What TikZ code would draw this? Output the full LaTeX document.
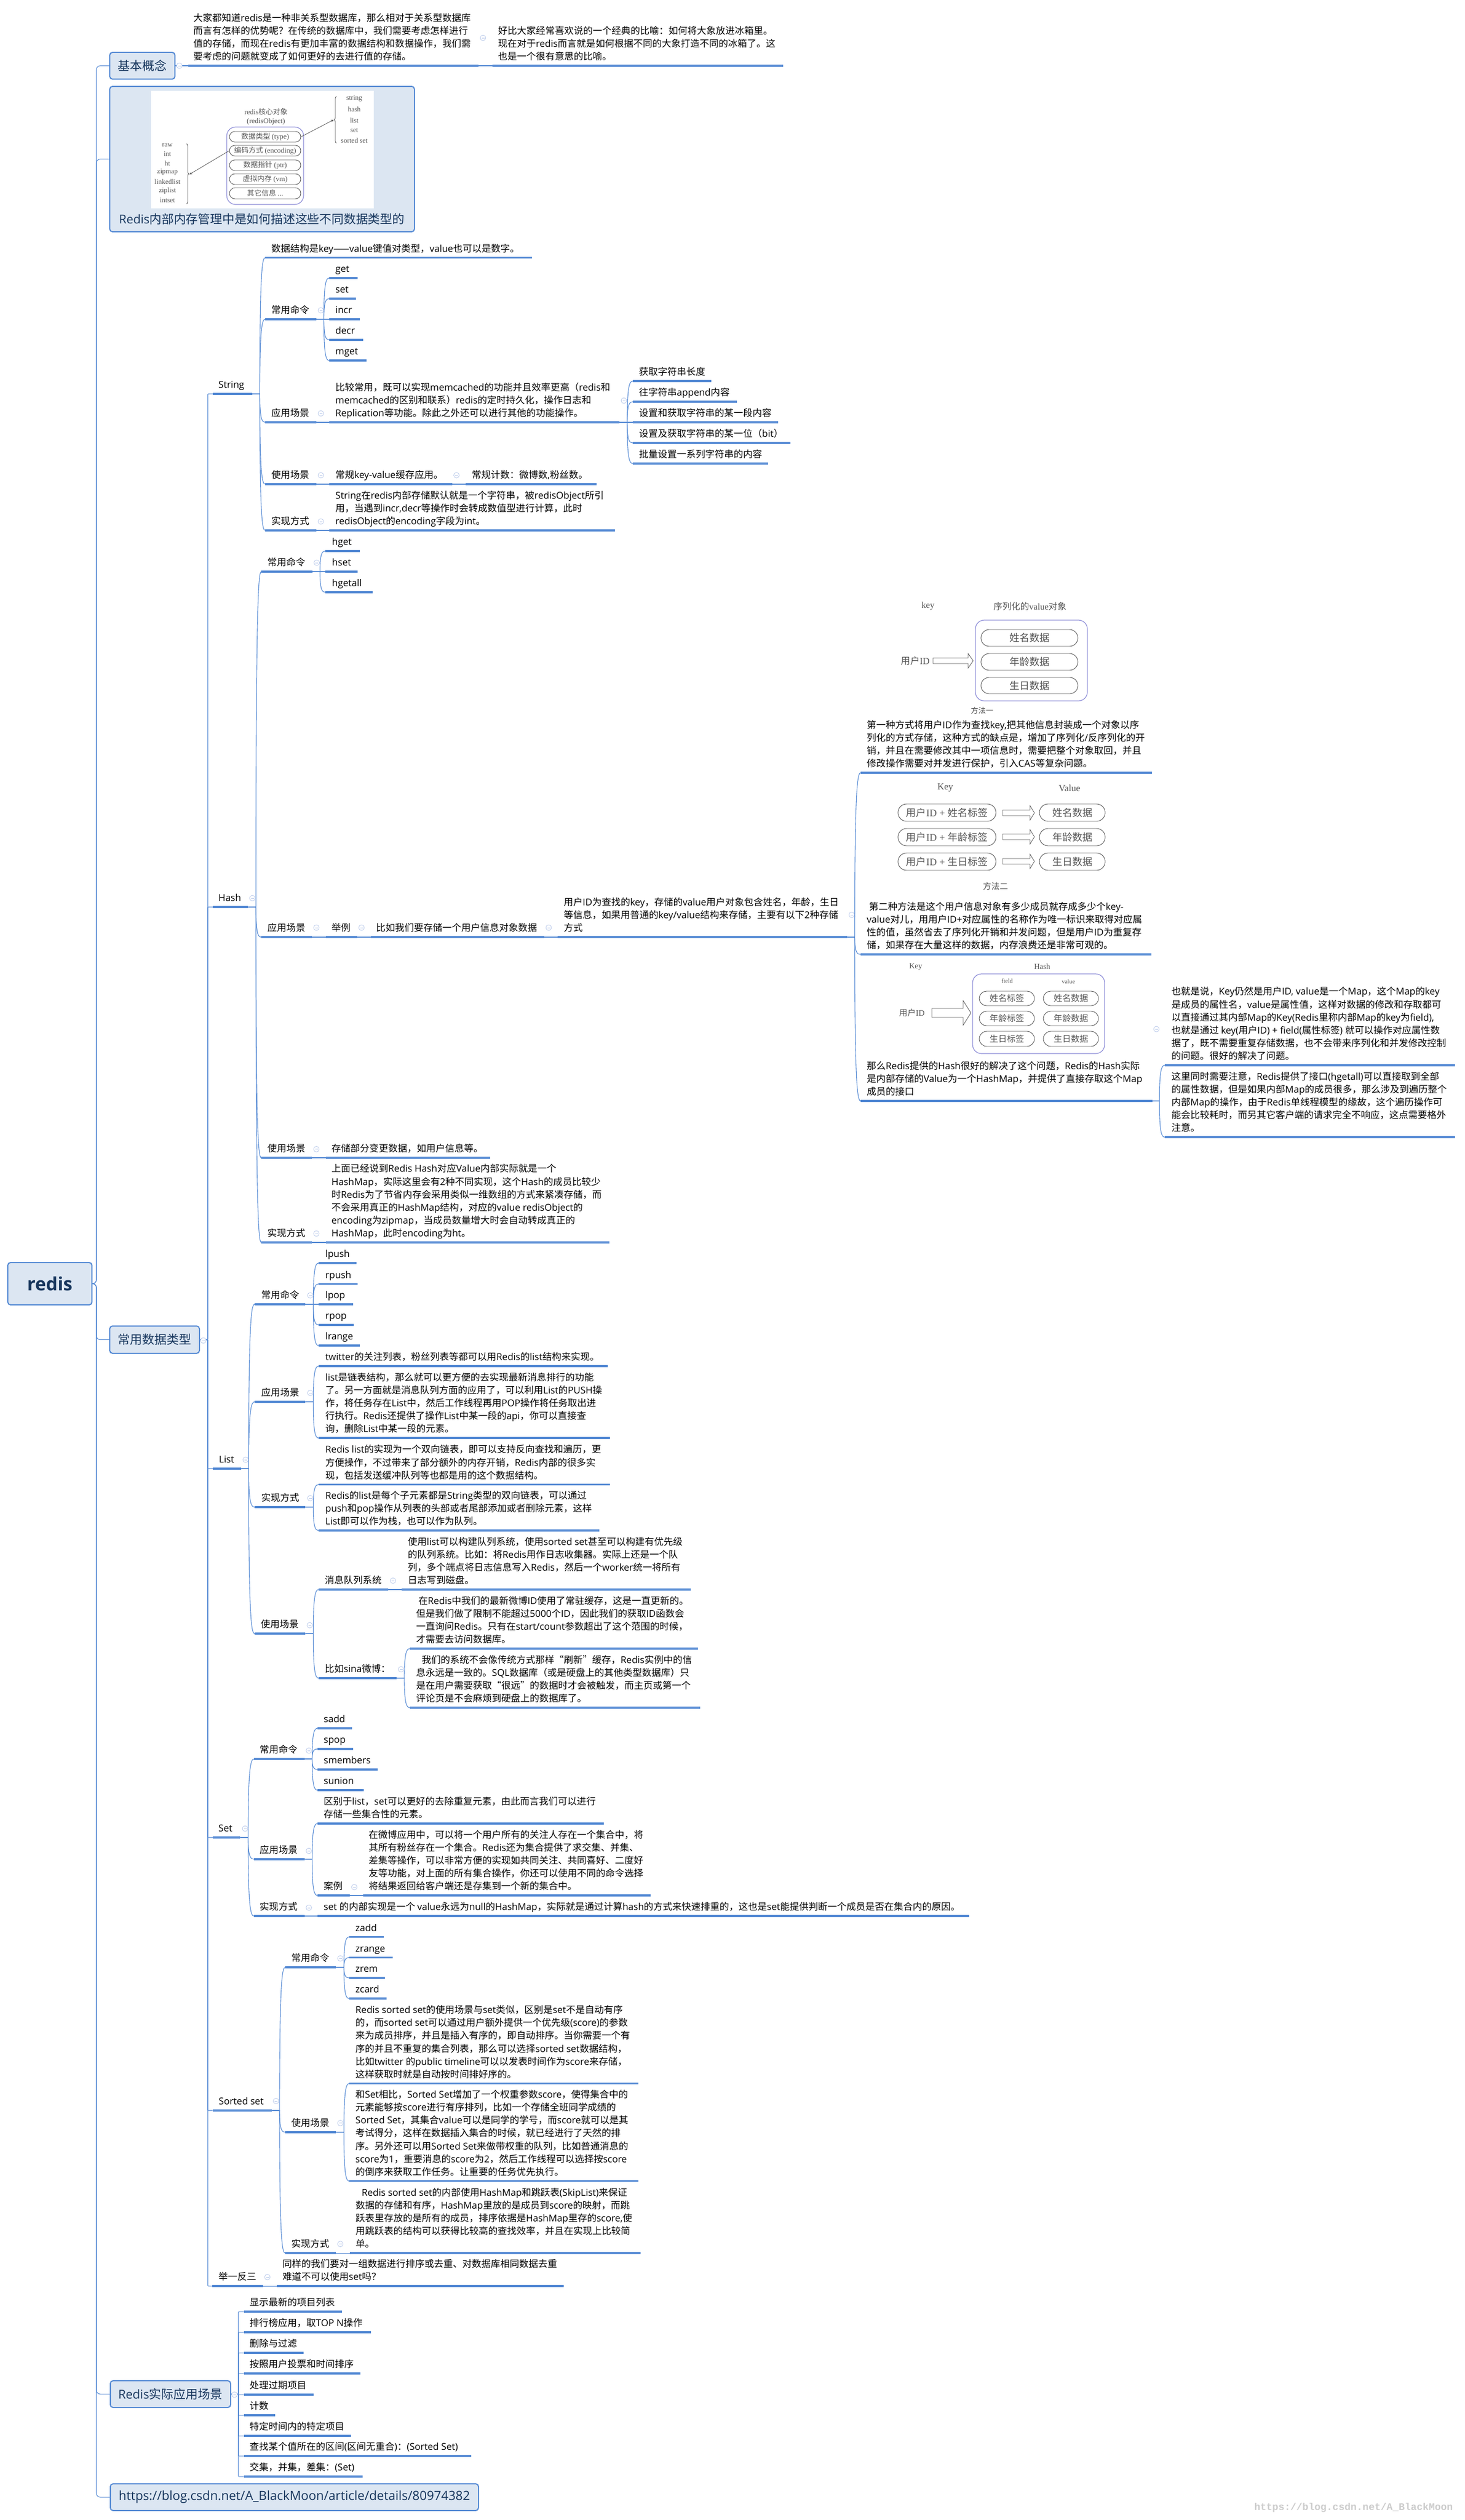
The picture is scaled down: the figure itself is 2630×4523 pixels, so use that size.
\documentclass[tikz,border=0pt]{standalone}
\usepackage{fontspec}
\usetikzlibrary{calc,arrows.meta,decorations.pathreplacing}
\setmainfont{Noto Sans CJK SC}
\newfontfamily\latf{Open Sans}
\newfontfamily\cjkf{Noto Sans CJK SC}
\newfontfamily\serf{Liberation Serif}
\newfontfamily\monf{Liberation Mono}
\let\mylat\latf
\let\mycjk\cjkf
\newcount\cjkcc
\cjkcc="2E80 \loop \XeTeXcharclass\cjkcc=1 \advance\cjkcc by 1 \ifnum\cjkcc<"A000 \repeat
\cjkcc="FF00 \loop \XeTeXcharclass\cjkcc=1 \advance\cjkcc by 1 \ifnum\cjkcc<"FFF0 \repeat
\XeTeXcharclass"2014=1 \XeTeXcharclass"2018=1 \XeTeXcharclass"2019=1 \XeTeXcharclass"201C=1 \XeTeXcharclass"201D=1
\XeTeXinterchartoks 0 1 = {\mycjk}
\XeTeXinterchartoks 1 0 = {\mylat}
\XeTeXinterchartoks 4095 0 = {\mylat}
\XeTeXinterchartoks 4095 1 = {\mycjk}
\XeTeXinterchartoks 255 0 = {\mylat}
\XeTeXinterchartoks 255 1 = {\mycjk}
\definecolor{mapblue}{HTML}{558AD4}
\definecolor{boxfill}{HTML}{DCE6F2}
\definecolor{boxtext}{HTML}{17365D}
\definecolor{iconc}{HTML}{B9C9EA}
\definecolor{figgray}{HTML}{555555}
\definecolor{figpurple}{HTML}{8F8FD8}
\tikzset{
 x=1pt,y=-1pt,
 tpst/.style={inner xsep=0pt,inner ysep=3pt,font=\fontsize{17}{23.2}\selectfont,text=black},
 ul/.style={line width=3.2pt,draw=mapblue},
 conn/.style={line width=1.1pt,draw=mapblue},
 boxst/.style={draw=mapblue,fill=boxfill,line width=2pt,rounded corners=5pt,inner sep=0pt,text=boxtext,font=\fontsize{22}{26}\selectfont},
 collapse/.style={circle,draw=iconc,fill=white,line width=.8pt,inner sep=0pt,minimum size=10pt},
 figt/.style={text=figgray,inner sep=0pt,font=\fontsize{#1}{#1}\selectfont\let\mylat\serf},
 pillst/.style={draw=figgray,line width=.9pt,inner sep=0pt,text=figgray},
 figout/.style={draw=figpurple,line width=1.2pt,fill=white},
 figl/.style={draw=figgray,line width=.8pt},
}
\newcommand\tp[6]{%
 \pgfmathsetlengthmacro\tpw{#3-#2}%
 \node[tpst,anchor=south west] (#1) at (#2,#4) {\makebox[\tpw][l]{\hspace*{#5pt}\begin{tabular}[b]{@{}l@{}}#6\end{tabular}}};
 \draw[ul] (#1.south west) -- (#1.south east);
}
\newcommand\boxn[6]{%
 \pgfmathsetlengthmacro\bw{#4-#2}\pgfmathsetlengthmacro\bh{#5-#3}%
 \node[boxst,minimum width=\bw,minimum height=\bh] (#1) at ({(#2+#4)/2},{(#3+#5)/2}) {#6};
}
\newcounter{clc}
\newcommand\cl[2]{\stepcounter{clc}\node[collapse] (icon\theclc) at (#1,#2) {\textcolor{iconc}{\rule{5pt}{.9pt}}};}
% curved link
\newcommand\lk[3]{%
 \path (#1) ++(#2,0) coordinate (j);
 \draw[conn] (#1) -- (j) .. controls ($(j)!.88!(j|-#3)$) and ($(j|-#3)!.4!(#3)$) .. (#3);
}
\newcommand\lks[3]{\foreach \c in {#3}{\lk{#1}{#2}{\c.south west}}}
% rounded elbow
\newcommand\lkr[4][7pt]{%
 \path (#2) ++(#3,0) coordinate (j);
 \draw[conn,rounded corners=#1] (#2) -- (j) -- (j|-#4) -- (#4);
}
\newcommand\pill[6]{%
 \pgfmathsetlengthmacro\bw{#4-#2}\pgfmathsetlengthmacro\bh{#5-#3}\pgfmathsetlengthmacro\br{(#5-#3)/2}%
 \node[pillst,figt=#6,minimum width=\bw,minimum height=\bh,rounded corners=\br] (#1) at ({(#2+#4)/2},{(#3+#5)/2}) {\csname ptx@#1\endcsname};
}
\newcommand\pl[7]{\expandafter\def\csname ptx@#1\endcsname{#7}\pill{#1}{#2}{#3}{#4}{#5}{#6}}
\newcommand\barrow[6]{%
 \draw[figl,fill=white] (#1,{#3-#4}) -- ({#2-#6},{#3-#4}) -- ({#2-#6},{#3-#5}) -- (#2,#3) -- ({#2-#6},{#3+#5}) -- ({#2-#6},{#3+#4}) -- (#1,{#3+#4}) -- cycle;
}
\begin{document}
\XeTeXinterchartokenstate=1
\begin{tikzpicture}
\useasboundingbox (0,0) rectangle (2630,4523);
\fill[white] (0,0) rectangle (2630,4523);
% top level boxes
\node[boxst,minimum width=151pt,minimum height=76pt,font=\fontsize{33}{36}\selectfont\bfseries,text=boxtext] (root) at (89.5,2304) {redis};
\boxn{basic}{197}{94}{314}{142}{基本概念}
\boxn{pic}{197}{155}{744}{416}{}
\boxn{types}{197}{2380}{358}{2429}{常用数据类型}
\boxn{scen}{198}{4273}{414}{4321}{Redis实际应用场景}
\boxn{url}{198}{4458}{859}{4506}{\fontsize{22.6}{26}\selectfont https://blog.csdn.net/A\_BlackMoon/article/details/80974382}
% picture in box
\node[fill=white,inner sep=0pt,minimum width=400pt,minimum height=211pt] (picimg) at (471,268.5) {};
\node[inner sep=0pt,text=boxtext,font=\fontsize{21.8}{26}\selectfont] (piccap) at (470,393) {Redis内部内存管理中是如何描述这些不同数据类型的};
\node[figt=13] (fa1) at (477.5,201) {redis核心对象};
\node[figt=13] (fa2) at (477.5,218) {(redisObject)};
\node[figout,rounded corners=16pt,minimum width=138pt,minimum height=139pt,inner sep=0pt] (fao) at (476,297.5) {};
\pl{fp1}{412}{236}{540}{255}{13}{数据类型 (type)}
\pl{fp2}{412}{261}{540}{280}{13}{编码方式 (encoding)}
\pl{fp3}{412}{287}{540}{306}{13}{数据指针 (ptr)}
\pl{fp4}{412}{312}{540}{331}{13}{虚拟内存 (vm)}
\pl{fp5}{412}{337}{540}{357}{13}{其它信息 ...}
\node[figt=12.5] (fl1) at (300.6,261) {raw};
\node[figt=12.5] (fl2) at (300.6,276) {int};
\node[figt=12.5] (fl3) at (300.6,293) {ht};
\node[figt=12.5] (fl4) at (300.6,309) {zipmap};
\node[figt=12.5] (fl5) at (300.6,326) {linkedlist};
\node[figt=12.5] (fl6) at (300.6,342) {ziplist};
\node[figt=12.5] (fl7) at (300.6,359) {intset};
\node[figt=12.5] (fr1) at (636,177) {string};
\node[figt=12.5] (fr2) at (636,196) {hash};
\node[figt=12.5] (fr3) at (636,216) {list};
\node[figt=12.5] (fr4) at (636,234) {set};
\node[figt=12.5] (fr5) at (636,252) {sorted set};
\coordinate (bl1) at (335,258); \coordinate (bl2) at (335,366);
\coordinate (br1) at (604,257); \coordinate (br2) at (604,173);
\draw[figl,decorate,decoration={brace,amplitude=4pt}] (bl1) -- (bl2);
\draw[figl,decorate,decoration={brace,amplitude=4pt}] (br1) -- (br2);
\coordinate (tipl) at (340,313); \coordinate (tipr) at (599,215);
\draw[figl,-{Stealth[length=5pt,width=4pt]}] (fp2.west) -- (tipl);
\draw[figl,-{Stealth[length=5pt,width=4pt]}] (fp1.east) -- (tipr);
% basic concept
\tp{t1}{338}{859}{118}{9}{大家都知道redis是一种非关系型数据库，那么相对于关系型数据库\\而言有怎样的优势呢？在传统的数据库中，我们需要考虑怎样进行\\值的存储，而现在redis有更加丰富的数据结构和数据操作，我们需\\要考虑的问题就变成了如何更好的去进行值的存储。}
\tp{t2}{884}{1406}{118}{10}{好比大家经常喜欢说的一个经典的比喻：如何将大象放进冰箱里。\\现在对于redis而言就是如何根据不同的大象打造不同的冰箱了。这\\也是一个很有意思的比喻。}
% String
\tp{str}{382}{453}{707}{10}{String}
\tp{sdesc}{476}{955}{462.5}{11}{数据结构是key——value键值对类型，value也可以是数字。}
\tp{scmd}{476}{568}{573}{11}{常用命令}
\tp{sget}{591}{642}{499}{11}{get}
\tp{sset}{591}{639}{536}{11}{set}
\tp{sincr}{591}{646}{573}{11}{incr}
\tp{sdecr}{591}{651.5}{610}{11}{decr}
\tp{smget}{591}{658}{647}{11}{mget}
\tp{sapp}{476}{568}{758}{11}{应用场景}
\tp{sappt}{591}{1111.5}{758}{11}{比较常用，既可以实现memcached的功能并且效率更高（redis和\\memcached的区别和联系）redis的定时持久化，操作日志和\\Replication等功能。除此之外还可以进行其他的功能操作。}
\tp{sa1}{1136}{1277}{684}{11}{获取字符串长度}
\tp{sa2}{1136}{1323}{721}{11}{往字符串append内容}
\tp{sa3}{1136}{1397}{758}{11}{设置和获取字符串的某一段内容}
\tp{sa4}{1136}{1419}{795}{11}{设置及获取字符串的某一位（bit）}
\tp{sa5}{1136}{1379}{832}{11}{批量设置一系列字符串的内容}
\tp{suse}{476}{568}{869}{11}{使用场景}
\tp{suse1}{591}{812}{869}{11}{常规key-value缓存应用。}
\tp{suse2}{836}{1071}{869}{11}{常规计数：微博数,粉丝数。}
\tp{simp}{476}{568}{952}{11}{实现方式}
\tp{simpt}{591}{1103.5}{952}{11}{String在redis内部存储默认就是一个字符串，被redisObject所引\\用，当遇到incr,decr等操作时会转成数值型进行计算，此时\\redisObject的encoding字段为int。}
% Hash
\tp{hash}{382}{445}{1628}{10}{Hash}
\tp{hcmd}{469}{560.6}{1026}{11}{常用命令}
\tp{hget}{584}{646}{989}{12}{hget}
\tp{hset}{584}{642}{1026}{12}{hset}
\tp{hgetall}{584}{669}{1063}{12}{hgetall}
\tp{happ}{469}{560}{1682}{11}{应用场景}
\tp{hex}{585}{641}{1682}{10}{举例}
\tp{hex2}{666}{977}{1682}{9}{比如我们要存储一个用户信息对象数据}
\tp{hex3}{1001}{1521}{1682}{11}{用户ID为查找的key，存储的value用户对象包含姓名，年龄，生日\\等信息，如果用普通的key/value结构来存储，主要有以下2种存储\\方式}
\tp{m1}{1545}{2068}{1387}{11}{第一种方式将用户ID作为查找key,把其他信息封装成一个对象以序\\列化的方式存储，这种方式的缺点是，增加了序列化/反序列化的开\\销，并且在需要修改其中一项信息时，需要把整个对象取回，并且\\修改操作需要对并发进行保护，引入CAS等复杂问题。}
\tp{m2}{1545}{2067}{1713}{11}{\hspace*{4pt}第二种方法是这个用户信息对象有多少成员就存成多少个key-\\value对儿，用用户ID+对应属性的名称作为唯一标识来取得对应属\\性的值，虽然省去了序列化开销和并发问题，但是用户ID为重复存\\储，如果存在大量这样的数据，内存浪费还是非常可观的。}
\tp{m3}{1545}{2069}{1976}{11}{那么Redis提供的Hash很好的解决了这个问题，Redis的Hash实际\\是内部存储的Value为一个HashMap，并提供了直接存取这个Map\\成员的接口}
\tp{m3a}{2091}{2612}{1912}{12}{也就是说，Key仍然是用户ID, value是一个Map，这个Map的key\\是成员的属性名，value是属性值，这样对数据的修改和存取都可\\以直接通过其内部Map的Key(Redis里称内部Map的key为field),\\也就是通过 key(用户ID) + field(属性标签) 就可以操作对应属性数\\据了，既不需要重复存储数据，也不会带来序列化和并发修改控制\\的问题。很好的解决了问题。}
\tp{m3b}{2091}{2612}{2041}{12}{这里同时需要注意，Redis提供了接口(hgetall)可以直接取到全部\\的属性数据，但是如果内部Map的成员很多，那么涉及到遍历整个\\内部Map的操作，由于Redis单线程模型的缘故，这个遍历操作可\\能会比较耗时，而另其它客户端的请求完全不响应，这点需要格外\\注意。}
\tp{huse}{469}{560}{2078}{11}{使用场景}
\tp{huset}{585}{879.5}{2078}{10}{存储部分变更数据，如用户信息等。}
\tp{himp}{469}{560}{2230}{11}{实现方式}
\tp{himpt}{585}{1094}{2230}{10}{上面已经说到Redis Hash对应Value内部实际就是一个\\HashMap，实际这里会有2种不同实现，这个Hash的成员比较少\\时Redis为了节省内存会采用类似一维数组的方式来紧凑存储，而\\不会采用真正的HashMap结构，对应的value redisObject的\\encoding为zipmap，当成员数量增大时会自动转成真正的\\HashMap，此时encoding为ht。}
% Hash figures
\node[figt=16] (k1a) at (1666,1088) {key};
\node[figt=16] (k1b) at (1849,1088) {序列化的value对象};
\node[figout,rounded corners=16pt,minimum width=201pt,minimum height=145pt,inner sep=0pt] (k1o) at (1851.5,1185.5) {};
\pl{k1p1}{1761}{1130}{1935}{1160}{18}{姓名数据}
\pl{k1p2}{1761}{1173}{1935}{1203}{18}{年龄数据}
\pl{k1p3}{1761}{1216}{1935}{1245}{18}{生日数据}
\node[figt=17] (k1u) at (1643,1186) {用户ID};
\barrow{1675}{1747}{1186}{5}{13}{9}
\node[figt=13.5] (k1f) at (1763,1275) {方法一};
\node[figt=17] (k2a) at (1697,1414) {Key};
\node[figt=17] (k2b) at (1920,1415) {Value};
\pl{k2l1}{1612}{1443}{1788}{1474}{18}{用户ID + 姓名标签}
\pl{k2l2}{1612}{1487}{1788}{1518}{18}{用户ID + 年龄标签}
\pl{k2l3}{1612}{1531}{1788}{1562}{18}{用户ID + 生日标签}
\pl{k2r1}{1866}{1443}{1984}{1474}{18}{姓名数据}
\pl{k2r2}{1866}{1487}{1984}{1518}{18}{年龄数据}
\pl{k2r3}{1866}{1531}{1984}{1562}{18}{生日数据}
\barrow{1800}{1857}{1459}{5}{13}{8}
\barrow{1800}{1857}{1502}{5}{13}{8}
\barrow{1800}{1857}{1546}{5}{13}{8}
\node[figt=15] (k2f) at (1787,1591) {方法二};
\node[figt=14] (k3a) at (1644,1735) {Key};
\node[figt=14] (k3b) at (1871,1735) {Hash};
\node[figout,rounded corners=16pt,minimum width=237pt,minimum height=143pt,inner sep=0pt] (k3o) at (1864.5,1819.5) {};
\node[figt=11] (k3c) at (1808,1761) {field};
\node[figt=11] (k3d) at (1918,1762) {value};
\pl{k3l1}{1758}{1779}{1857}{1805}{15.5}{姓名标签}
\pl{k3l2}{1758}{1815}{1857}{1841}{15.5}{年龄标签}
\pl{k3l3}{1758}{1851}{1857}{1878}{15.5}{生日标签}
\pl{k3r1}{1873}{1779}{1972}{1805}{15.5}{姓名数据}
\pl{k3r2}{1873}{1815}{1972}{1841}{15.5}{年龄数据}
\pl{k3r3}{1873}{1851}{1972}{1878}{15.5}{生日数据}
\node[figt=15] (k3u) at (1637,1818) {用户ID};
\barrow{1673}{1743}{1818}{8}{22}{14}
% List
\tp{list}{382}{433}{2636}{11}{List}
\tp{lcmd}{457}{548}{2341}{12}{常用命令}
\tp{l1}{572}{640}{2267}{12}{lpush}
\tp{l2}{572}{641.6}{2304.5}{12}{rpush}
\tp{l3}{572}{633.6}{2341}{12}{lpop}
\tp{l4}{572}{634.7}{2378}{12}{rpop}
\tp{l5}{572}{646}{2415}{12}{lrange}
\tp{lapp}{457}{548}{2516}{12}{应用场景}
\tp{la1}{572}{1090.5}{2452}{12}{twitter的关注列表，粉丝列表等都可以用Redis的list结构来实现。}
\tp{la2}{572}{1094.5}{2581}{12}{list是链表结构，那么就可以更方便的去实现最新消息排行的功能\\了。另一方面就是消息队列方面的应用了，可以利用List的PUSH操\\作，将任务存在List中，然后工作线程再用POP操作将任务取出进\\行执行。Redis还提供了操作List中某一段的api，你可以直接查\\询，删除List中某一段的元素。}
\tp{limp}{457}{548}{2705}{12}{实现方式}
\tp{li1}{572}{1094.5}{2664.5}{12}{Redis list的实现为一个双向链表，即可以支持反向查找和遍历，更\\方便操作，不过带来了部分额外的内存开销，Redis内部的很多实\\现，包括发送缓冲队列等也都是用的这个数据结构。}
\tp{li2}{572}{1075.6}{2747}{12}{Redis的list是每个子元素都是String类型的双向链表，可以通过\\push和pop操作从列表的头部或者尾部添加或者删除元素，这样\\List即可以作为栈，也可以作为队列。}
\tp{luse}{457}{548}{2932}{11}{使用场景}
\tp{lu1}{572}{697}{2853}{11}{消息队列系统}
\tp{lu1t}{721}{1240}{2853}{11}{使用list可以构建队列系统，使用sorted set甚至可以构建有优先级\\的队列系统。比如：将Redis用作日志收集器。实际上还是一个队\\列，多个端点将日志信息写入Redis，然后一个worker统一将所有\\日志写到磁盘。}
\tp{lu2}{572}{712}{3012}{11}{比如sina微博：}
\tp{lu2a}{736}{1252.5}{2959}{11}{\hspace*{4pt}在Redis中我们的最新微博ID使用了常驻缓存，这是一直更新的。\\但是我们做了限制不能超过5000个ID，因此我们的获取ID函数会\\一直询问Redis。只有在start/count参数超出了这个范围的时候，\\才需要去访问数据库。}
\tp{lu2b}{736}{1256.5}{3065}{11}{\hspace*{10pt}我们的系统不会像传统方式那样“刷新”缓存，Redis实例中的信\\息永远是一致的。SQL数据库（或是硬盘上的其他类型数据库）只\\是在用户需要获取“很远”的数据时才会被触发，而主页或第一个\\评论页是不会麻烦到硬盘上的数据库了。}
% Set
\tp{set}{382}{431}{3298}{10}{Set}
\tp{ecmd}{456}{547}{3157}{10}{常用命令}
\tp{e1}{570}{632}{3102}{11}{sadd}
\tp{e2}{570}{634}{3139}{11}{spop}
\tp{e3}{570}{678}{3176}{11}{smembers}
\tp{e4}{570}{653}{3213}{11}{sunion}
\tp{eapp}{456}{547}{3337}{10}{应用场景}
\tp{ea1}{570}{1083.6}{3273}{11}{区别于list，set可以更好的去除重复元素，由此而言我们可以进行\\存储一些集合性的元素。}
\tp{ea2}{570}{627.5}{3402}{11}{案例}
\tp{ea2t}{651.6}{1168}{3402}{10}{在微博应用中，可以将一个用户所有的关注人存在一个集合中，将\\其所有粉丝存在一个集合。Redis还为集合提供了求交集、并集、\\差集等操作，可以非常方便的实现如共同关注、共同喜好、二度好\\友等功能，对上面的所有集合操作，你还可以使用不同的命令选择\\将结果返回给客户端还是存集到一个新的集合中。}
\tp{eimp}{456}{547}{3439}{10}{实现方式}
\tp{eimpt}{570}{1740}{3439}{11}{set 的内部实现是一个 value永远为null的HashMap，实际就是通过计算hash的方式来快速排重的，这也是set能提供判断一个成员是否在集合内的原因。}
% Sorted set
\tp{zs}{381.5}{488}{3788}{11}{Sorted set}
\tp{zcmd}{512}{603}{3531}{11}{常用命令}
\tp{z1}{627}{689}{3476.5}{11}{zadd}
\tp{z2}{627}{704.5}{3513.5}{11}{zrange}
\tp{z3}{627}{690.6}{3550}{11}{zrem}
\tp{z4}{627}{693.6}{3587}{11}{zcard}
\tp{zuse}{512}{603}{3827}{11}{使用场景}
\tp{zu1}{627}{1146}{3739.6}{11}{Redis sorted set的使用场景与set类似，区别是set不是自动有序\\的，而sorted set可以通过用户额外提供一个优先级(score)的参数\\来为成员排序，并且是插入有序的，即自动排序。当你需要一个有\\序的并且不重复的集合列表，那么可以选择sorted set数据结构，\\比如twitter 的public timeline可以以发表时间作为score来存储，\\这样获取时就是自动按时间排好序的。}
\tp{zu2}{627}{1146}{3914.7}{11}{和Set相比，Sorted Set增加了一个权重参数score，使得集合中的\\元素能够按score进行有序排列，比如一个存储全班同学成绩的\\Sorted Set，其集合value可以是同学的学号，而score就可以是其\\考试得分，这样在数据插入集合的时候，就已经进行了天然的排\\序。另外还可以用Sorted Set来做带权重的队列，比如普通消息的\\score为1，重要消息的score为2，然后工作线程可以选择按score\\的倒序来获取工作任务。让重要的任务优先执行。}
\tp{zimp}{512}{603}{4044}{11}{实现方式}
\tp{zimpt}{627.6}{1150}{4044}{10.5}{\hspace*{11pt}Redis sorted set的内部使用HashMap和跳跃表(SkipList)来保证\\数据的存储和有序，HashMap里放的是成员到score的映射，而跳\\跃表里存放的是所有的成员，排序依据是HashMap里存的score,使\\用跳跃表的结构可以获得比较高的查找效率，并且在实现上比较简\\单。}
\tp{ju}{381}{472}{4103}{11}{举一反三}
\tp{jut}{497}{1012}{4103}{10}{同样的我们要对一组数据进行排序或去重、对数据库相同数据去重\\难道不可以使用set吗？}
% scenes
\tp{r1}{437.5}{613.5}{4149}{10.5}{显示最新的项目列表}
\tp{r2}{437.5}{666}{4186}{10.5}{排行榜应用，取TOP N操作}
\tp{r3}{437.5}{545}{4223}{10.5}{删除与过滤}
\tp{r4}{437.5}{647}{4260}{10.5}{按照用户投票和时间排序}
\tp{r5}{437.5}{562.5}{4298}{10.5}{处理过期项目}
\tp{r6}{437.5}{494}{4335}{10.5}{计数}
\tp{r7}{437.5}{630}{4372}{10.5}{特定时间内的特定项目}
\tp{r8}{437.5}{846}{4408}{10.5}{查找某个值所在的区间(区间无重合)：(Sorted Set)}
\tp{r9}{437.5}{651}{4445}{10.5}{交集，并集，差集：(Set)}
% connectors, level 1
\foreach \c in {basic,pic,types,scen,url}{\lkr{root.east}{7}{\c.west}}
\lk{basic.east}{10}{t1.south west}
\lk{t1.south east}{10}{t2.south west}
% level 2
\foreach \c in {str,hash,list,set,zs,ju}{\lkr[1pt]{types.east}{14}{\c.south west}}
% level 3+
\lks{str.south east}{13}{sdesc,scmd,sapp,suse,simp}
\lks{scmd.south east}{13}{sget,sset,sincr,sdecr,smget}
\lk{sapp.south east}{10}{sappt.south west}
\lks{sappt.south east}{14}{sa1,sa2,sa3,sa4,sa5}
\lk{suse.south east}{10}{suse1.south west}
\lk{suse1.south east}{10}{suse2.south west}
\lk{simp.south east}{10}{simpt.south west}
\lks{hash.south east}{14}{hcmd,happ,huse,himp}
\lks{hcmd.south east}{13.4}{hget,hset,hgetall}
\lk{happ.south east}{10}{hex.south west}
\lk{hex.south east}{10}{hex2.south west}
\lk{hex2.south east}{10}{hex3.south west}
\lks{hex3.south east}{13}{m1,m2,m3}
\lks{m3.south east}{12}{m3a,m3b}
\lk{huse.south east}{10}{huset.south west}
\lk{himp.south east}{10}{himpt.south west}
\lks{list.south east}{13}{lcmd,lapp,limp,luse}
\lks{lcmd.south east}{14}{l1,l2,l3,l4,l5}
\lks{lapp.south east}{14}{la1,la2}
\lks{limp.south east}{14}{li1,li2}
\lks{luse.south east}{14}{lu1,lu2}
\lk{lu1.south east}{10}{lu1t.south west}
\lks{lu2.south east}{13.5}{lu2a,lu2b}
\lks{set.south east}{14}{ecmd,eapp,eimp}
\lks{ecmd.south east}{13}{e1,e2,e3,e4}
\lks{eapp.south east}{13}{ea1,ea2}
\lk{ea2.south east}{10}{ea2t.south west}
\lk{eimp.south east}{10}{eimpt.south west}
\lks{zs.south east}{13.5}{zcmd,zuse,zimp}
\lks{zcmd.south east}{14}{z1,z2,z3,z4}
\lks{zuse.south east}{14}{zu1,zu2}
\lk{zimp.south east}{10}{zimpt.south west}
\lk{ju.south east}{10}{jut.south west}
\foreach \c in {r1,r2,r3,r4,r5,r6,r7,r8,r9}{\lkr[1pt]{scen.east}{13}{\c.south west}}
% collapse icons
\foreach \p/\q in {322/118,867/68,576/557,576/742,1120/719,576/853,819.5/853,576/936,
 453/1612,568.6/1010,568/1665,649/1665,985/1665,1529/1642,2076/1847,568/2062.5,568/2214,
 365/2406,421/4298,441/2620,557/2325,557/2500,557/2689,556/2917,705.5/2837,720/2996,
 440/3282,554.5/3142,554.5/3322,636/3387,554.5/3424,495.5/3771,611/3515,611/3810.5,611/4027.6,480/4087}{\cl{\p}{\q}}
\node[anchor=east,inner sep=0pt,text=black!20,font=\fontsize{18}{20}\selectfont\bfseries\let\mylat\monf] (wm) at (2620,4501) {\hbox to 368pt{https://blog.csdn.net/A\_BlackMoon\hss}};
\end{tikzpicture}
\end{document}
